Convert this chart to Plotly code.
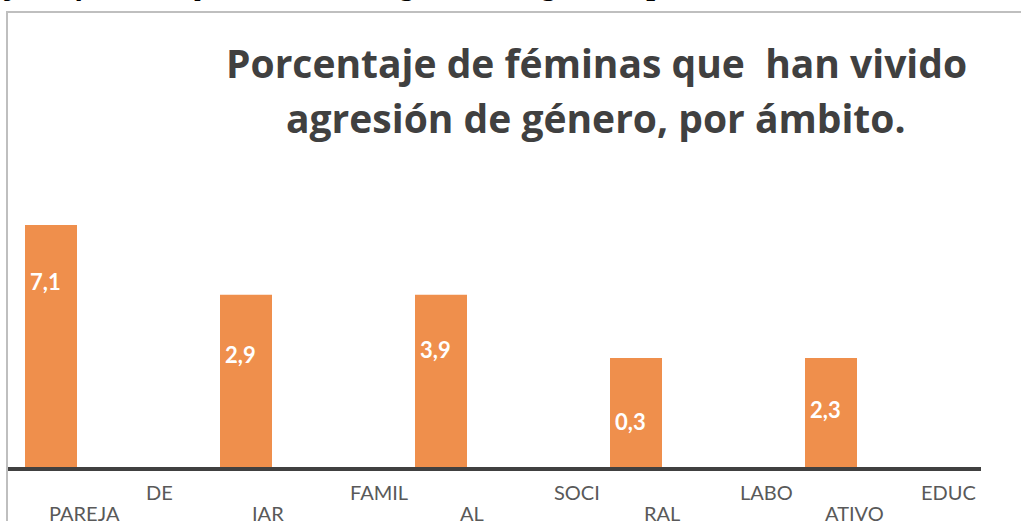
import plotly.graph_objects as go

# ---- data ----
categories = ["PAREJA", "FAMILIAR", "SOCIAL", "LABORAL", "EDUCATIVO"]
bar_heights = [7.1, 5.05, 5.05, 3.2, 3.2]          # drawn heights (axis units)
value_labels = ["7,1", "2,9", "3,9", "0,3", "2,3"]  # printed data labels
label_drop_px = [56, 60, 55, 64, 52]                # label distance below bar top

# garbled, staggered category texts as they appear
upper_texts = ["DE", "FAMIL", "SOCI", "LABO", "EDUC"]
upper_pos = [0.554, 1.682, 2.697, 3.667, 4.605]
lower_texts = ["PAREJA", "IAR", "AL", "RAL", "ATIVO"]
lower_pos = [0.174, 1.113, 2.159, 3.133, 4.123]

title_lines = ["Porcentaje de féminas que&nbsp; han vivido", "agresión de género, por ámbito."]
caption_text = "Porcentaje de féminas que han vivido agresión de género, por"

W, H = 1021, 521
PL, PR, PT, PB = 8, 981, 180, 467   # plot area in pixels
YMAX = 7.1 * (PB - PT) / 242.0
xs = list(range(len(categories)))
x0_units = -(51 - PL) / 195.0
x1_units = (PR - 51) / 195.0

def px_x(p):
    return (p - PL) / (PR - PL)

def px_y(p):
    return (PB - p) / (PB - PT)

fig = go.Figure()
fig.add_trace(go.Bar(
    x=xs, y=bar_heights, width=52 / 195.0,
    marker=dict(color="#EF8F4C", line=dict(width=0)),
    hoverinfo="skip",
))

annotations = []
for xi, h, lab, d in zip(xs, bar_heights, value_labels, label_drop_px):
    annotations.append(dict(
        x=xi, y=h, xref="x", yref="y", text="<b>%s</b>" % lab, showarrow=False,
        xanchor="center", yanchor="middle", xshift=-6, yshift=-d,
        font=dict(family="Lato", size=22, color="white"),
    ))
for t, p in zip(upper_texts, upper_pos):
    annotations.append(dict(
        x=p, y=px_y(492), xref="x", yref="paper", text=t, showarrow=False,
        xanchor="center", yanchor="middle",
        font=dict(family="Lato", size=20, color="#595959"),
    ))
for t, p in zip(lower_texts, lower_pos):
    annotations.append(dict(
        x=p, y=px_y(513), xref="x", yref="paper", text=t, showarrow=False,
        xanchor="center", yanchor="middle",
        font=dict(family="Lato", size=20, color="#595959"),
    ))
for line, cy in zip(title_lines, [62, 117]):
    annotations.append(dict(
        x=px_x(596), y=px_y(cy), xref="paper", yref="paper", text="<b>%s</b>" % line,
        showarrow=False, xanchor="center", yanchor="middle",
        font=dict(family="Open Sans", size=39, color="#404040"),
    ))
annotations.append(dict(
    x=px_x(-112), y=px_y(-17), xref="paper", yref="paper", text="<b><i>%s</i></b>" % caption_text,
    showarrow=False, xanchor="left", yanchor="middle",
    font=dict(family="Liberation Serif", size=31.5, color="black"),
))

frame = dict(color="#BFBFBF", width=2)
fig.update_layout(
    width=W, height=H,
    margin=dict(l=PL, r=W - PR, t=PT, b=H - PB, pad=0),
    paper_bgcolor="white", plot_bgcolor="white",
    showlegend=False,
    xaxis=dict(range=[x0_units, x1_units], showgrid=False, zeroline=False,
               showticklabels=False, ticks="", showline=True,
               linecolor="#404040", linewidth=4, fixedrange=True),
    yaxis=dict(range=[0, YMAX], showgrid=False, zeroline=False, visible=False,
               fixedrange=True),
    annotations=annotations,
    shapes=[
        dict(type="line", xref="paper", yref="paper",
             x0=px_x(7), x1=px_x(7), y0=px_y(11), y1=px_y(530), line=frame, layer="below"),
        dict(type="line", xref="paper", yref="paper",
             x0=px_x(6), x1=px_x(1021), y0=px_y(12), y1=px_y(12), line=frame, layer="below"),
    ],
)

fig.write_html("out.html", config={"displayModeBar": False},
               post_script="document.documentElement.style.overflow='hidden';"
                           "document.body.style.margin='0';document.body.style.overflow='hidden';")
